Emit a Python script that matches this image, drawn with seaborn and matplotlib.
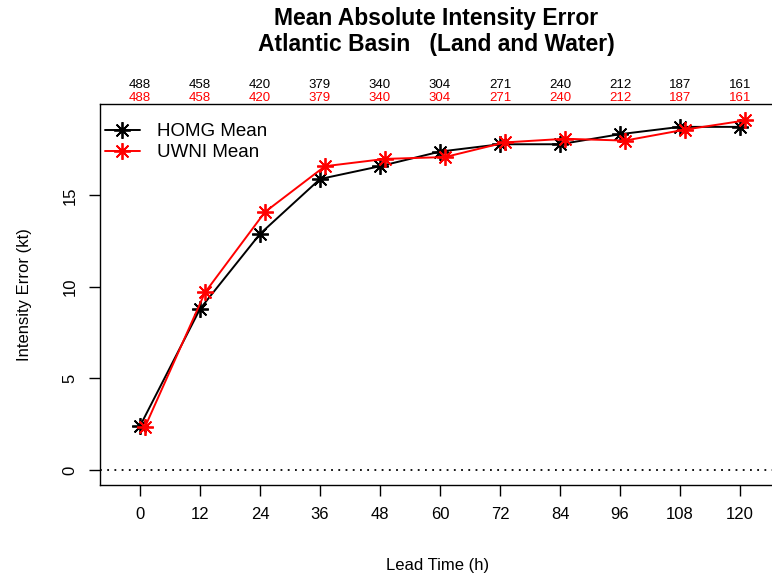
import matplotlib
matplotlib.use("Agg")
import matplotlib.pyplot as plt
import seaborn as sns
import pandas as pd
import numpy as np

lead = [0, 12, 24, 36, 48, 60, 72, 84, 96, 108, 120]
homg = [2.4, 8.8, 12.9, 15.9, 16.6, 17.4, 17.8, 17.8, 18.35, 18.75, 18.75]
uwni = [2.35, 9.7, 14.1, 16.6, 17.0, 17.1, 17.9, 18.1, 18.0, 18.6, 19.1]
n_homg = [488, 458, 420, 379, 340, 304, 271, 240, 212, 187, 161]
n_uwni = [488, 458, 420, 379, 340, 304, 271, 240, 212, 187, 161]
series = ["HOMG Mean", "UWNI Mean"]
colors = ["black", "red"]
yticks = [0, 5, 10, 15]

sns.set_style("white")
plt.rcParams['font.family'] = ['Liberation Sans', 'DejaVu Sans']
plt.rcParams['text.color'] = 'black'
plt.rcParams['axes.labelcolor'] = 'black'
plt.rcParams['xtick.color'] = 'black'
plt.rcParams['ytick.color'] = 'black'

dodge = 1.0
frames = [
    pd.DataFrame({"lead": np.array(lead, float), "err": homg}),
    pd.DataFrame({"lead": np.array(lead, float) + dodge, "err": uwni}),
]

fig = plt.figure(figsize=(7.72, 5.78), dpi=100)
ax = fig.add_axes([100/772, (578-485)/578, 675/772, 381/578])

for d, name, c in zip(frames, series, colors):
    sns.lineplot(data=d, x="lead", y="err", color=c, label=name,
                 marker=(8, 2, 0), markersize=12, markeredgewidth=1.3,
                 markeredgecolor=c, markerfacecolor=c,
                 linewidth=1.4, ax=ax)

ax.axhline(0, color="black", linestyle=(0, (1, 3)), linewidth=1.3)

ax.set_xlim(-8, 127)
ax.set_ylim(-0.82, 20.0)
ax.set_xticks(lead)
ax.set_xticklabels([str(v) for v in lead], fontsize=12)
ax.set_yticks(yticks)
ax.set_yticklabels([str(v) for v in yticks], fontsize=12, rotation=90, va="center")
ax.tick_params(axis="both", direction="out", length=8, width=1, color="black",
               labelcolor="black", bottom=True, left=True, pad=8)

for s in ["left", "top", "bottom"]:
    ax.spines[s].set_visible(True)
    ax.spines[s].set_color("black")
    ax.spines[s].set_linewidth(1)
ax.spines["right"].set_visible(False)

ax.set_xlabel("Lead Time (h)", fontsize=12, labelpad=26, color="black")
ax.set_ylabel("Intensity Error (kt)", fontsize=12, labelpad=22, color="black")

leg = ax.legend(loc="upper left", bbox_to_anchor=(0.0, 0.962), frameon=False,
                fontsize=13.5, handlelength=1.9, borderaxespad=0.0,
                labelspacing=0.2, borderpad=0.25, handletextpad=0.9)
for t in leg.get_texts():
    t.set_color("black")

trans = matplotlib.transforms.blended_transform_factory(ax.transData, fig.transFigure)
for x, a, b in zip(lead, n_homg, n_uwni):
    ax.text(x, 1 - 85/578, str(a), transform=trans, ha="center", va="center",
            fontsize=9.5, color="black", clip_on=False)
    ax.text(x, 1 - 98/578, str(b), transform=trans, ha="center", va="center",
            fontsize=9.5, color="red", clip_on=False)

fig.text(436/772, 1 - 18/578, "Mean Absolute Intensity Error", ha="center", va="center",
         fontsize=16.5, fontweight="bold", color="black")
fig.text(436/772, 1 - 45/578, "Atlantic Basin   (Land and Water)", ha="center", va="center",
         fontsize=16.5, fontweight="bold", color="black")

fig.savefig("out.png", dpi=100)
